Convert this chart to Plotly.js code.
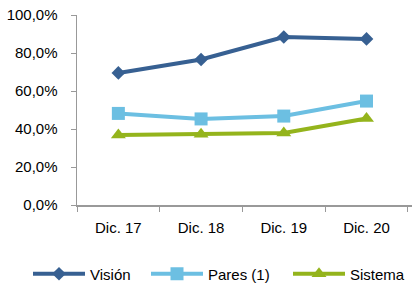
<!DOCTYPE html>
<html><head><meta charset="utf-8">
<script src="https://cdn.plot.ly/plotly-3.0.1.min.js"></script>
<style>html,body{margin:0;padding:0;background:#fff}#chart{width:412px;height:284px}</style>
</head><body><div id="chart"></div>
<script>
const categories = ["Dic. 17", "Dic. 18", "Dic. 19", "Dic. 20"];
const vision = [69.5, 76.6, 88.4, 87.4];
const pares = [48.2, 45.3, 46.8, 54.7];
const sistema = [36.8, 37.2, 37.9, 45.5];
const yTicks = [0, 20, 40, 60, 80, 100];

const font = {family: "Liberation Sans, Arial, sans-serif", size: 15, color: "#000"};
function tr(name, y, color, symbol, size, leg) {
  return {x: categories, y: y, name: name, type: "scatter", mode: "lines+markers", legend: leg,
    line: {color: color, width: 4}, marker: {symbol: symbol, size: size, color: color}};
}
const data = [
  tr("Visión", vision, "#376092", "diamond", 10.5, "legend"),
  tr("Pares (1)", pares, "#6CBFE2", "square", 13, "legend2"),
  tr("Sistema", sistema, "#94B41C", "triangle-up", 13, "legend3")
];
function leg(xpx) {
  return {orientation: "h", xref: "container", yref: "container", x: xpx / 412, y: 10 / 284,
    xanchor: "left", yanchor: "middle", itemwidth: 52, font: font, bgcolor: "rgba(0,0,0,0)"};
}
const layout = {
  width: 412, height: 284,
  margin: {l: 77, r: 0, t: 15, b: 79},
  paper_bgcolor: "#fff", plot_bgcolor: "#fff",
  font: font,
  showlegend: true,
  legend: leg(28), legend2: leg(146), legend3: leg(288),
  xaxis: {type: "category", range: [-0.5, 3.55], showline: true, linecolor: "#999", linewidth: 1.5,
    ticks: "outside", tickson: "boundaries", ticklen: 5, tickcolor: "#999", showgrid: false,
    zeroline: false, ticklabelstandoff: 8},
  yaxis: {range: [0, 100], tickvals: yTicks, ticktext: yTicks.map(v => v.toFixed(1).replace(".", ",") + "%"),
    showline: true, linecolor: "#999", linewidth: 1.5, ticks: "outside", ticklen: 5, tickcolor: "#999",
    showgrid: false, zeroline: false, ticklabelstandoff: 10}
};
Plotly.newPlot("chart", data, layout, {displayModeBar: false, staticPlot: true});
</script></body></html>
